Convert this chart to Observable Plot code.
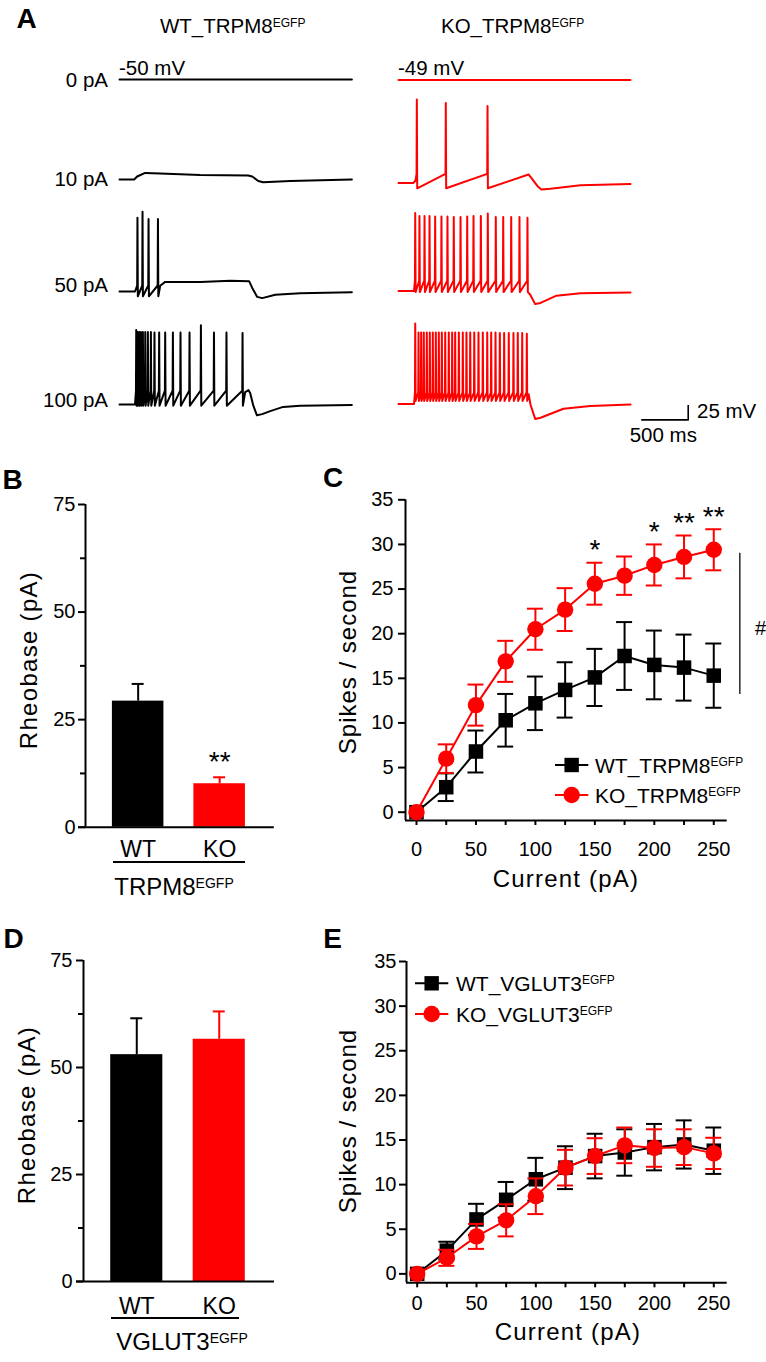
<!DOCTYPE html>
<html><head><meta charset="utf-8">
<script src="https://cdn.jsdelivr.net/npm/d3@7"></script>
<script src="https://cdn.jsdelivr.net/npm/@observablehq/plot@0.6"></script>
<style>
body{margin:0;background:#fff;font-family:"Liberation Sans",Arial,Helvetica,sans-serif;color:#000}
#fig{position:relative;width:766px;height:1362px;overflow:hidden;background:#fff}
.t{position:absolute;line-height:1;white-space:nowrap;color:#000}
</style></head><body><div id="fig"></div>
<script>
// ================= DATA =================
// ---- Panel A: example voltage traces (time in ms, membrane potential in mV) ----
const traceRows = ["0 pA", "10 pA", "50 pA", "100 pA"];
const restingLabels = ["-50 mV", "-49 mV"];
const wt0Env = [[0,-50],[2472,-50]];
const wt10Env = [[0,-50],[156,-50],[188,-45],[273,-39],[433,-40],[859,-42.5],[1369,-43.3],[1412,-45],[1476,-52.5],[1529,-54.5],[1816,-52.5],[2472,-50]];
const wt50Pre = [[0,-50],[165,-50]];
const wt50Spikes = [191, 245, 309, 409];
const wt50Peaks = [73, 83, 71, 71];
const wt50Post = [[433,-40.5],[486,-34],[859,-34],[1178,-32],[1380,-33],[1412,-44],[1465,-59],[1519,-61],[1657,-55.5],[1923,-53],[2472,-51.3]];
const wt100Pre = [[0,-50],[165,-50]];
const wt100Spikes = [178,192,210,228,249,274,302,334,372,422,486,568,649,745,866,1005,1138,1309];
const wt100Peaks = [74,71,71,71,71,71,71,71,70,70,70,70,70,70,82,70,70,69];
const wt100Post = [[1337,-29.5],[1372,-26],[1390,-31],[1422,-51],[1462,-68],[1518,-66],[1603,-61],[1741,-54],[1923,-52],[2472,-50.7]];
const ko0Env = [[0,-49],[2468,-49]];
const ko10Pre = [[0,-49],[160,-49],[181,-45]];
const ko10Spikes = [195, 503, 947];
const ko10Peaks = [90, 84, 79];
const ko10Post = [[1383,-35],[1415,-41],[1479,-54.5],[1521,-60],[1617,-58.7],[1936,-53],[2468,-50.7]];
const ko50Pre = [[0,-49],[165,-49]];
const ko50Spikes = [178,223,277,330,390,457,521,588,660,731,798,876,950,1035,1114,1199,1287,1372];
const ko50Peaks = [81,76,76,76,75,75,75,74,74,75,76,76,80,74,74,74,74,73];
const ko50Post = [[1400,-55],[1454,-71],[1511,-69],[1681,-57],[1936,-53],[2468,-51.8]];
const ko100Pre = [[0,-49],[165,-49]];
const ko100Spikes = [178,213,241,269,301,333,365,397,429,461,497,535,571,603,642,684,723,763,806,851,897,944,986,1032,1078,1124,1173,1223,1269,1316,1365];
const ko100Peaks = [85,70,70,70,70,70,70,70,70,70,70,70,70,70,70,70,70,70,70,70,70,70,70,70,69,69,69,69,69,69,68];
const ko100Post = [[1385,-33],[1404,-50],[1454,-74],[1511,-72],[1755,-57],[2043,-52.7],[2468,-50.2]];
// spike threshold / after-hyperpolarisation trough per trace (mV)
const spikeThresh = {wt50: -40, wt100: -27, ko10: -34, ko50: -32, ko100: -30};
const spikeTrough = {wt50: -58, wt100: -52, ko10: -58, ko50: -51, ko100: -44};
const scaleBarMs = 500, scaleBarMv = 25;

// ---- Panels B, D: rheobase ----
const rheoGroups = ["WT", "KO"];
const rheoTRPM8 = [29.3, 10.1];
const rheoTRPM8Err = [4.0, 1.5];
const rheoVGLUT3 = [53.0, 56.6];
const rheoVGLUT3Err = [8.5, 6.5];
const rheoTicks = [0, 25, 50, 75];
const rheoMinorTicks = [12.5, 37.5, 62.5];

// ---- Panels C, E: firing frequency vs injected current ----
const currents = [0, 25, 50, 75, 100, 125, 150, 175, 200, 225, 250];
const wtTRPM8 = [0, 2.8, 6.8, 10.3, 12.2, 13.7, 15.1, 17.5, 16.5, 16.2, 15.3];
const wtTRPM8Err = [0, 1.55, 2.35, 2.95, 3.0, 3.1, 3.2, 3.8, 3.85, 3.7, 3.6];
const koTRPM8 = [0, 6.0, 12.0, 16.9, 20.5, 22.7, 25.6, 26.5, 27.7, 28.6, 29.4];
const koTRPM8Err = [0, 1.6, 2.3, 2.3, 2.3, 2.4, 2.35, 2.15, 2.3, 2.4, 2.3];
const wtVGLUT3 = [0, 2.6, 6.1, 8.3, 10.6, 11.9, 13.2, 13.6, 14.2, 14.5, 13.8];
const wtVGLUT3Err = [0, 1.0, 1.75, 2.0, 2.4, 2.4, 2.5, 2.6, 2.6, 2.7, 2.6];
const koVGLUT3 = [0, 1.8, 4.2, 6.0, 8.7, 11.9, 13.2, 14.4, 14.1, 14.2, 13.5];
const koVGLUT3Err = [0, 0.9, 1.4, 1.8, 2.0, 2.0, 2.0, 2.0, 2.1, 2.0, 1.75];
const fiTicks = [0, 5, 10, 15, 20, 25, 30, 35];
const sigCurrents = [150, 200, 225, 250];
const sigLabels = ["*", "*", "**", "**"];
const groupBracket = [13.2, 29.0];

// ================= RENDER =================
const fig = document.getElementById("fig");
const FONT = '"Liberation Sans", Arial, Helvetica, sans-serif';
const RED = "#ff0000", BLACK = "#000000";
const STYLE = {fontFamily: FONT, fontSize: "20px", background: "transparent", overflow: "visible", color: "#000"};

function put(el, left, top) {
  el.style.position = "absolute";
  el.style.left = left + "px";
  el.style.top = top + "px";
  fig.appendChild(el);
  return el;
}
function sup(t, size) {
  const s = Math.round(size * 0.57);
  const raise = (size - s) * 0.716;
  return `<span style="font-size:${s}px;vertical-align:${raise.toFixed(1)}px;line-height:0">${t}</span>`;
}
function label(html, x, y, o = {}) {
  const size = o.size || 20;
  const d = document.createElement("div");
  d.className = "t";
  d.innerHTML = html;
  d.style.fontSize = size + "px";
  if (o.bold) d.style.fontWeight = "bold";
  if (o.ls) d.style.letterSpacing = o.ls + "px";
  const tx = o.anchor === "middle" ? "-50%" : o.anchor === "end" ? "-100%" : "0";
  d.style.transform = `translate(${tx},-50%)` + (o.rotate ? ` rotate(${o.rotate}deg)` : "");
  return put(d, x, y);
}
function hline(x, y, w, h = 2) {
  const d = document.createElement("div");
  d.style.cssText = `width:${w}px;height:${h}px;background:#000`;
  return put(d, x, y - h / 2);
}

// ---- Panel A ----
const msPerPx = 500 / 47;
const TW = 330, TH = 111;
function buildTrace(pre, spikes, peaks, thresh, trough, post) {
  const pts = pre.slice();
  spikes.forEach((t, i) => { pts.push([t - 3, thresh], [t, peaks[i]], [t + 4, trough]); });
  return pts.concat(post);
}
function tracePlot(pts, color, extra = []) {
  return Plot.plot({
    width: TW, height: TH, margin: 0,
    x: {domain: [0, TW * msPerPx], axis: null},
    y: {domain: [-85, 100], axis: null},
    style: STYLE,
    marks: [Plot.line(pts, {x: d => d[0], y: d => d[1], stroke: color, strokeWidth: 2}), ...extra]
  });
}
const wtTraces = [
  wt0Env, wt10Env,
  buildTrace(wt50Pre, wt50Spikes, wt50Peaks, spikeThresh.wt50, spikeTrough.wt50, wt50Post),
  buildTrace(wt100Pre, wt100Spikes, wt100Peaks, spikeThresh.wt100, spikeTrough.wt100, wt100Post)
];
const koTraces = [
  ko0Env,
  buildTrace(ko10Pre, ko10Spikes, ko10Peaks, spikeThresh.ko10, spikeTrough.ko10, ko10Post),
  buildTrace(ko50Pre, ko50Spikes, ko50Peaks, spikeThresh.ko50, spikeTrough.ko50, ko50Post),
  buildTrace(ko100Pre, ko100Spikes, ko100Peaks, spikeThresh.ko100, spikeTrough.ko100, ko100Post)
];
const wtTops = [-11, 89, 200.7, 314.3];
const koTops = [-10.4, 93.3, 200.6, 313.9];
// scale bar anchored to the right of the last KO trace
const sbT0 = 2582, sbV0 = -75.7;
const scaleBar = [[sbT0, sbV0], [sbT0 + scaleBarMs, sbV0], [sbT0 + scaleBarMs, sbV0 + scaleBarMv]];
wtTraces.forEach((p, i) => put(tracePlot(p, BLACK), 119.3, wtTops[i]));
koTraces.forEach((p, i) => put(tracePlot(p, RED, i === 3 ? [Plot.line(scaleBar, {x: d => d[0], y: d => d[1], stroke: BLACK, strokeWidth: 1.6, strokeLinecap: "butt"})] : []), 398, koTops[i]));

label("A", 26.5, 19, {size: 28, bold: true, anchor: "middle"});
label("WT_TRPM8" + sup("EGFP", 20.5), 160, 25.5, {size: 20.5});
label("KO_TRPM8" + sup("EGFP", 20.5), 441, 25.5, {size: 20.5});
label(restingLabels[0], 119, 68, {size: 20.5});
label(restingLabels[1], 398, 68, {size: 20.5});
[80, 179, 285, 400].forEach((y, i) => label(traceRows[i], 108, y, {size: 20.5, anchor: "end"}));
label(scaleBarMv + " mV", 697, 411, {size: 20.5});
label(scaleBarMs + " ms", 629.7, 435, {size: 20.5});

// ---- Panels B & D ----
const PI = 0.368, PO = 0.33;
function rheoPanel(f, values, errs, sig) {
  const rows = rheoGroups.map((g, i) => ({g, v: values[i], e: errs[i], color: i === 0 ? BLACK : RED}));
  const fw = f.width - f.ml - f.mr;
  const step = fw / (rheoGroups.length - PI + 2 * PO);
  const bw = step * (1 - PI);
  const leftOffset = step * PO + bw / 2;
  const marks = [
    rows.map(d => Plot.barY([d], {x: "g", y: "v", fill: d.color})),
    rows.map(d => Plot.ruleX([d], {x: "g", y1: "v", y2: r => r.v + r.e, stroke: d.color, strokeWidth: 2})),
    rows.map(d => Plot.tickY([d], {x: "g", y: r => r.v + r.e, stroke: d.color, strokeWidth: 2, inset: (bw - 12) / 2})),
    Plot.ruleX([rheoGroups[0]], {x: d => d, y1: 0, y2: 75, dx: -leftOffset, strokeWidth: 2}),
    Plot.ruleY([0], {strokeWidth: 2, insetLeft: -7, insetRight: -2}),
    Plot.axisY({ticks: rheoTicks, tickSize: 7, tickPadding: f.yPad, strokeWidth: 2, fontSize: 20, label: null}),
    Plot.axisY({ticks: rheoMinorTicks, tickSize: 5, tickFormat: () => "", strokeWidth: 2, label: null}),
    Plot.axisX({tickSize: 0, tickPadding: f.xPad, fontSize: 23, label: null})
  ];
  if (sig) marks.push(Plot.text(rows.filter(d => d.g === sig.group), {x: "g", y: d => d.v + d.e, text: () => sig.text, lineAnchor: "bottom", dy: -6.7, fontSize: 28}));
  const p = Plot.plot({
    width: f.width, height: f.height, marginLeft: f.ml, marginRight: f.mr, marginTop: f.mt, marginBottom: f.mb,
    x: {type: "band", domain: rheoGroups, paddingInner: PI, paddingOuter: PO, round: false},
    y: {domain: [0, 75]},
    style: STYLE, marks
  });
  put(p, f.left, f.top);
}
rheoPanel({left: 0, top: 440, width: 300, height: 470, ml: 85, mr: 28.2, mt: 64, mb: 83.3, yPad: 3, xPad: 13},
  rheoTRPM8, rheoTRPM8Err, {group: "KO", text: "**"});
rheoPanel({left: 0, top: 900, width: 300, height: 462, ml: 83, mr: 28, mt: 60, mb: 81, yPad: 4, xPad: 16},
  rheoVGLUT3, rheoVGLUT3Err, null);

label("B", 12.5, 480, {size: 28, bold: true, anchor: "middle"});
label("Rheobase (pA)", 28.6, 660, {size: 24, anchor: "middle", rotate: -90, ls: 1.3});
hline(113, 861.7, 132);
label("TRPM8" + sup("EGFP", 24), 174, 887, {size: 24, anchor: "middle"});

label("D", 13.5, 939, {size: 28, bold: true, anchor: "middle"});
label("Rheobase (pA)", 27, 1115, {size: 24, anchor: "middle", rotate: -90, ls: 1.3});
hline(111, 1318.3, 128);
label("VGLUT3" + sup("EGFP", 24), 182, 1341.5, {size: 24, anchor: "middle"});

// ---- Panels C & E ----
function seriesMarks(values, errs, color, symbol, r, capU) {
  const rows = currents.map((c, i) => ({c, v: values[i], e: errs[i]}));
  const eb = rows.filter(d => d.e > 0);
  const caps = eb.flatMap(d => [{c: d.c, y: d.v + d.e}, {c: d.c, y: d.v - d.e}]);
  return [
    Plot.ruleX(eb, {x: "c", y1: d => d.v - d.e, y2: d => d.v + d.e, stroke: color, strokeWidth: 2}),
    Plot.ruleY(caps, {y: "y", x1: d => d.c - capU, x2: d => d.c + capU, stroke: color, strokeWidth: 2}),
    Plot.line(rows, {x: "c", y: "v", stroke: color, strokeWidth: 2}),
    Plot.dot(rows, {x: "c", y: "v", symbol, r, fill: color})
  ];
}
function fiPanel(f, wt, wtE, ko, koE, extra) {
  const pxPerX = (f.width - f.ml - f.mr) / (f.xDom[1] - f.xDom[0]);
  const capU = 8 / pxPerX;
  const marks = [
    Plot.ruleX([f.xDom[0]], {y1: f.yDom[0], y2: fiTicks[fiTicks.length - 1], strokeWidth: 2}),
    Plot.ruleY([f.yDom[0]], {x1: f.xDom[0], x2: f.xDom[1], strokeWidth: 2}),
    Plot.axisY({ticks: fiTicks, tickSize: 7, tickPadding: f.yPad, strokeWidth: 2, fontSize: 20, label: null}),
    Plot.axisX({ticks: currents, tickFormat: d => d % 50 === 0 ? String(d) : "", tickSize: 5, tickPadding: f.xPad, strokeWidth: 2, fontSize: 20, label: null}),
    ...seriesMarks(wt, wtE, BLACK, "square", 8.2, capU),
    ...seriesMarks(ko, koE, RED, "circle", 8.2, capU),
    ...(extra ? extra(f) : [])
  ];
  const p = Plot.plot({
    width: f.width, height: f.height, marginLeft: f.ml, marginRight: f.mr, marginTop: f.mt, marginBottom: f.mb,
    x: {domain: f.xDom}, y: {domain: f.yDom},
    style: STYLE, marks
  });
  put(p, f.left, f.top);
}
const sigRows = sigCurrents.map((c, i) => {
  const j = currents.indexOf(c);
  return {c, top: koTRPM8[j] + koTRPM8Err[j], s: sigLabels[i]};
});
fiPanel({left: 300, top: 440, width: 466, height: 470, ml: 105, mr: 39.3, mt: 59.3, mb: 90, xDom: [-9.25, 261.3], yDom: [-0.93, 35], yPad: 5, xPad: 16.6},
  wtTRPM8, wtTRPM8Err, koTRPM8, koTRPM8Err,
  f => [
    Plot.text(sigRows, {x: "c", y: "top", text: "s", lineAnchor: "bottom", dy: -3.5, fontSize: 28}),
    Plot.ruleX([f.xDom[1]], {y1: groupBracket[0], y2: groupBracket[1], dx: 12.6, stroke: "#333", strokeWidth: 1.6})
  ]);
fiPanel({left: 300, top: 900, width: 466, height: 462, ml: 106, mr: 39.3, mt: 61, mb: 79.7, xDom: [-9.0, 261.3], yDom: [-1.0, 35], yPad: 3, xPad: 8},
  wtVGLUT3, wtVGLUT3Err, koVGLUT3, koVGLUT3Err, null);

label("C", 333, 478, {size: 28, bold: true, anchor: "middle"});
label("Spikes / second", 347.6, 662, {size: 24, anchor: "middle", rotate: -90, ls: 1.0});
label("Current (pA)", 566, 879, {size: 24, anchor: "middle", ls: 1.2});
label("#", 755, 628, {size: 20});

label("E", 332.5, 938.5, {size: 28, bold: true, anchor: "middle"});
label("Spikes / second", 347.6, 1121, {size: 24, anchor: "middle", rotate: -90, ls: 1.0});
label("Current (pA)", 568, 1332, {size: 24, anchor: "middle", ls: 1.2});

// ---- Legends ----
const overlay = d3.create("svg").attr("width", 766).attr("height", 1362).style("overflow", "visible").node();
put(overlay, 0, 0);
function legendItem(x0, x1, y, symbol, color, html, textX) {
  const s = d3.select(overlay);
  s.append("line").attr("x1", x0).attr("x2", x1).attr("y1", y).attr("y2", y).attr("stroke", color).attr("stroke-width", 2);
  const cx = (x0 + x1) / 2;
  if (symbol === "square") s.append("rect").attr("x", cx - 7.2).attr("y", y - 7.2).attr("width", 14.4).attr("height", 14.4).attr("fill", color);
  else s.append("circle").attr("cx", cx).attr("cy", y).attr("r", 8.2).attr("fill", color);
  label(html, textX, y, {size: 21});
}
legendItem(555, 588.3, 765, "square", BLACK, "WT_TRPM8" + sup("EGFP", 21), 595);
legendItem(555, 588.3, 795, "circle", RED, "KO_TRPM8" + sup("EGFP", 21), 595);
legendItem(415, 448.3, 983.3, "square", BLACK, "WT_VGLUT3" + sup("EGFP", 21), 456);
legendItem(415, 448.3, 1014, "circle", RED, "KO_VGLUT3" + sup("EGFP", 21), 456);
</script></body></html>
